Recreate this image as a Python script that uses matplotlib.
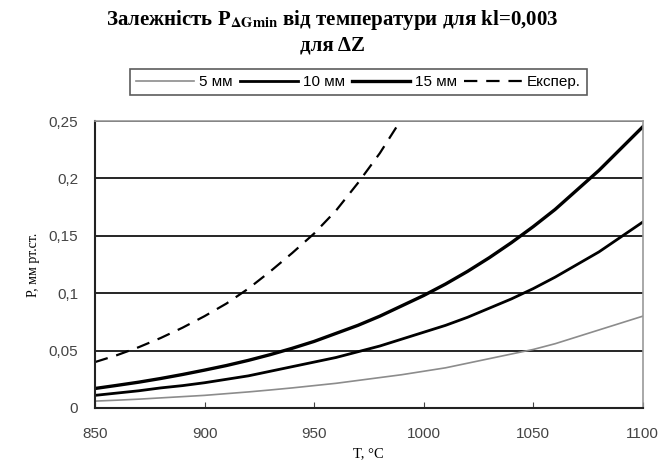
import matplotlib
matplotlib.use("Agg")
import matplotlib.pyplot as plt

# Температура, °C
t = [850, 860, 870, 880, 890, 900, 910, 920, 930, 940, 950, 960, 970,
     980, 990, 1000, 1010, 1020, 1030, 1040, 1050, 1060, 1070, 1080, 1090, 1100]
p5 = [0.006, 0.0068, 0.0077, 0.0088, 0.0099, 0.011, 0.0125, 0.014, 0.0157,
      0.0175, 0.0195, 0.0215, 0.024, 0.0265, 0.029, 0.032, 0.035, 0.039, 0.043,
      0.047, 0.051, 0.056, 0.062, 0.068, 0.074, 0.080]
p10 = [0.011, 0.013, 0.015, 0.0175, 0.0195, 0.022, 0.025, 0.028, 0.032, 0.036,
       0.040, 0.044, 0.049, 0.054, 0.060, 0.066, 0.072, 0.079, 0.087, 0.095,
       0.104, 0.114, 0.125, 0.136, 0.149, 0.162]
p15 = [0.017, 0.0197, 0.0225, 0.0257, 0.0292, 0.033, 0.037, 0.0415, 0.0465,
       0.052, 0.058, 0.065, 0.072, 0.080, 0.089, 0.098, 0.108, 0.119, 0.131,
       0.144, 0.158, 0.173, 0.190, 0.207, 0.226, 0.245]

# експериментальна крива
t_exp = [850, 860, 870, 880, 890, 900, 910, 920, 930, 940, 950, 960, 970, 980, 990]
p_exp = [0.040, 0.046, 0.053, 0.061, 0.070, 0.080, 0.091, 0.104, 0.119, 0.135,
         0.152, 0.172, 0.196, 0.222, 0.252]

plt.rcParams['font.family'] = ['Liberation Sans', 'DejaVu Sans']
plt.rcParams['mathtext.fontset'] = 'stix'

fig = plt.figure(figsize=(6.64, 4.65), dpi=100)
ax = fig.add_axes([0.143, 0.1226, 0.825, 0.617])

ax.plot(t, p5, color="#8c8c8c", lw=1.2, label="5 мм")
ax.plot(t, p10, color="black", lw=2.0, label="10 мм")
ax.plot(t, p15, color="black", lw=2.4, label="15 мм")
ax.plot(t_exp, p_exp, color="black", lw=1.6, ls=(0, (6, 4)), label="Експер.")

ax.set_xlim(850, 1100)
ax.set_ylim(0, 0.25)
ax.set_xticks([850, 900, 950, 1000, 1050, 1100])
ax.set_yticks([0, 0.05, 0.1, 0.15, 0.2, 0.25])
ax.set_yticklabels(["0", "0,05", "0,1", "0,15", "0,2", "0,25"])
ax.tick_params(axis="x", direction="in", length=4, labelsize=11, pad=14, colors="#444444")
ax.tick_params(axis="y", length=0, labelsize=11, pad=12, colors="#444444")
ax.yaxis.grid(True, color="black", lw=1.2)
ax.set_axisbelow(True)
for s in ["left", "bottom"]:
    ax.spines[s].set_color("#222222")
    ax.spines[s].set_linewidth(1.5)
for s in ["top", "right"]:
    ax.spines[s].set_color("#999999")
    ax.spines[s].set_linewidth(1.2)

ax.set_ylabel("P, мм рт.ст.", fontsize=10, family=['Liberation Serif'], labelpad=6)
ax.text(0.5, -0.16, "T, °C", transform=ax.transAxes, fontsize=10.5,
        family=['Liberation Serif'], ha="center", va="center")

fig.text(0.5, 0.958, "Залежність P$_{\\mathbf{\\Delta Gmin}}$ від температури для kl=0,003",
         ha="center", va="center", fontsize=15, fontweight="bold", family=['Liberation Serif'])
fig.text(0.5, 0.902, "для ΔZ", ha="center", va="center", fontsize=15,
         fontweight="bold", family=['Liberation Serif'])

leg = fig.legend(loc="center", bbox_to_anchor=(0.54, 0.823), ncol=4, fontsize=11,
                 frameon=True, fancybox=False, edgecolor="#333333",
                 handlelength=3.8, handletextpad=0.3, columnspacing=0.5,
                 borderpad=0.4)
leg.get_frame().set_linewidth(1.2)

fig.savefig("out.png", dpi=100)
